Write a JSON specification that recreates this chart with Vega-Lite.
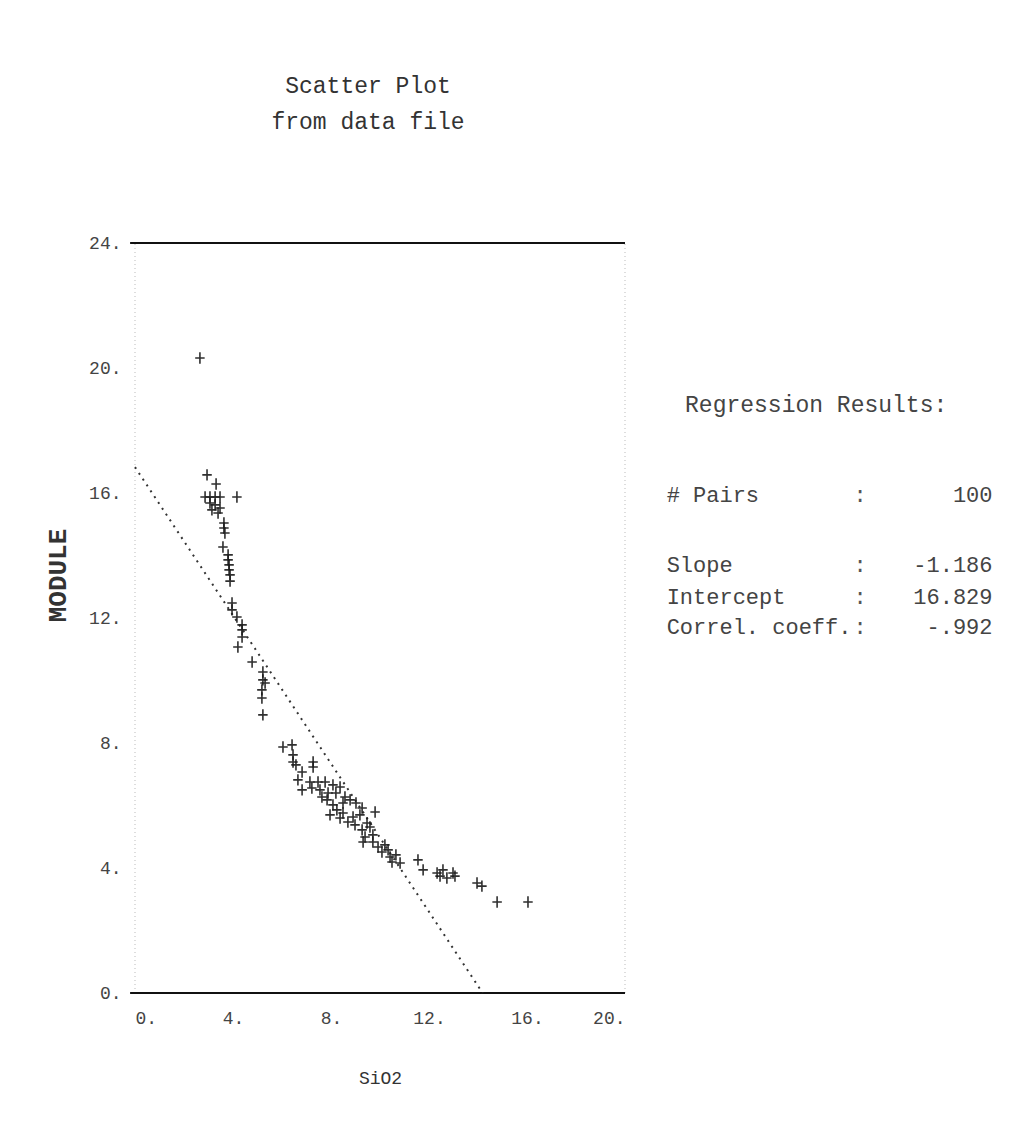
{
  "$schema": "https://vega.github.io/schema/vega-lite/v6.json",
  "width": 490,
  "height": 750,
  "autosize": {"type": "none"},
  "padding": {"left": 135, "top": 243, "right": 397, "bottom": 140},
  "background": "white",
  "config": {
    "view": {"stroke": null},
    "font": "Liberation Mono",
    "axis": {"domain": false, "ticks": false, "grid": false, "labelFont": "Liberation Mono", "titleFont": "Liberation Mono", "labelFontSize": 18, "labelColor": "#444", "titleColor": "#333"}
  },
  "title": {
    "text": ["Scatter Plot", "from data file"],
    "font": "Liberation Mono",
    "fontSize": 23,
    "fontWeight": "normal",
    "color": "#333",
    "lineHeight": 36,
    "offset": 100,
    "anchor": "middle",
    "dx": -12
  },
  "datasets": {
    "points": [
      {"SiO2": 2.65, "MODULE": 20.32}, {"SiO2": 2.94, "MODULE": 16.58}, {"SiO2": 3.31, "MODULE": 16.29}, {"SiO2": 2.86, "MODULE": 15.87}, {"SiO2": 3.06, "MODULE": 15.87},
      {"SiO2": 3.27, "MODULE": 15.87}, {"SiO2": 3.47, "MODULE": 15.87}, {"SiO2": 3.06, "MODULE": 15.68}, {"SiO2": 3.27, "MODULE": 15.62}, {"SiO2": 3.47, "MODULE": 15.52},
      {"SiO2": 3.14, "MODULE": 15.46}, {"SiO2": 3.39, "MODULE": 15.36}, {"SiO2": 4.16, "MODULE": 15.87}, {"SiO2": 3.63, "MODULE": 15.04}, {"SiO2": 3.63, "MODULE": 14.88},
      {"SiO2": 3.67, "MODULE": 14.72}, {"SiO2": 3.59, "MODULE": 14.27}, {"SiO2": 3.80, "MODULE": 14.02}, {"SiO2": 3.80, "MODULE": 13.86}, {"SiO2": 3.84, "MODULE": 13.70},
      {"SiO2": 3.84, "MODULE": 13.54}, {"SiO2": 3.88, "MODULE": 13.38}, {"SiO2": 3.88, "MODULE": 13.18}, {"SiO2": 3.96, "MODULE": 12.48}, {"SiO2": 3.96, "MODULE": 12.26},
      {"SiO2": 4.16, "MODULE": 12.03}, {"SiO2": 4.37, "MODULE": 11.78}, {"SiO2": 4.37, "MODULE": 11.62}, {"SiO2": 4.37, "MODULE": 11.39}, {"SiO2": 4.20, "MODULE": 11.07},
      {"SiO2": 4.78, "MODULE": 10.59}, {"SiO2": 5.22, "MODULE": 10.27}, {"SiO2": 5.22, "MODULE": 10.02}, {"SiO2": 5.31, "MODULE": 9.92}, {"SiO2": 5.18, "MODULE": 9.70},
      {"SiO2": 5.18, "MODULE": 9.44}, {"SiO2": 5.22, "MODULE": 8.90}, {"SiO2": 6.04, "MODULE": 7.87}, {"SiO2": 6.41, "MODULE": 7.94}, {"SiO2": 6.45, "MODULE": 7.62},
      {"SiO2": 6.45, "MODULE": 7.39}, {"SiO2": 6.57, "MODULE": 7.30}, {"SiO2": 6.82, "MODULE": 7.07}, {"SiO2": 7.27, "MODULE": 7.39}, {"SiO2": 7.27, "MODULE": 7.23},
      {"SiO2": 6.65, "MODULE": 6.82}, {"SiO2": 6.82, "MODULE": 6.50}, {"SiO2": 7.14, "MODULE": 6.75}, {"SiO2": 7.47, "MODULE": 6.75}, {"SiO2": 7.76, "MODULE": 6.75},
      {"SiO2": 8.08, "MODULE": 6.66}, {"SiO2": 8.37, "MODULE": 6.59}, {"SiO2": 7.22, "MODULE": 6.56}, {"SiO2": 7.55, "MODULE": 6.50}, {"SiO2": 7.88, "MODULE": 6.40},
      {"SiO2": 8.20, "MODULE": 6.40}, {"SiO2": 7.84, "MODULE": 6.18}, {"SiO2": 8.08, "MODULE": 6.02}, {"SiO2": 8.24, "MODULE": 5.86}, {"SiO2": 7.96, "MODULE": 5.70},
      {"SiO2": 8.37, "MODULE": 5.60}, {"SiO2": 8.49, "MODULE": 6.08}, {"SiO2": 8.49, "MODULE": 5.76}, {"SiO2": 8.78, "MODULE": 6.18}, {"SiO2": 9.02, "MODULE": 6.08},
      {"SiO2": 9.27, "MODULE": 5.92}, {"SiO2": 8.90, "MODULE": 5.63}, {"SiO2": 9.18, "MODULE": 5.70}, {"SiO2": 8.98, "MODULE": 5.38}, {"SiO2": 9.27, "MODULE": 5.22},
      {"SiO2": 9.47, "MODULE": 5.44}, {"SiO2": 9.80, "MODULE": 5.79}, {"SiO2": 9.59, "MODULE": 5.31}, {"SiO2": 9.31, "MODULE": 4.83}, {"SiO2": 9.71, "MODULE": 5.06},
      {"SiO2": 9.71, "MODULE": 4.83}, {"SiO2": 9.92, "MODULE": 4.67}, {"SiO2": 10.08, "MODULE": 4.51}, {"SiO2": 10.20, "MODULE": 4.74}, {"SiO2": 10.41, "MODULE": 4.35},
      {"SiO2": 10.49, "MODULE": 4.19}, {"SiO2": 10.82, "MODULE": 4.16}, {"SiO2": 10.65, "MODULE": 4.42}, {"SiO2": 11.55, "MODULE": 4.26}, {"SiO2": 11.76, "MODULE": 3.94},
      {"SiO2": 12.33, "MODULE": 3.84}, {"SiO2": 12.57, "MODULE": 3.94}, {"SiO2": 12.73, "MODULE": 3.68}, {"SiO2": 12.98, "MODULE": 3.84}, {"SiO2": 13.06, "MODULE": 3.74},
      {"SiO2": 13.96, "MODULE": 3.52}, {"SiO2": 14.16, "MODULE": 3.42}, {"SiO2": 14.78, "MODULE": 2.91}, {"SiO2": 16.04, "MODULE": 2.91}, {"SiO2": 8.57, "MODULE": 6.27},
      {"SiO2": 7.63, "MODULE": 6.27}, {"SiO2": 8.69, "MODULE": 5.47}, {"SiO2": 9.39, "MODULE": 4.99}, {"SiO2": 10.33, "MODULE": 4.58}, {"SiO2": 12.45, "MODULE": 3.74}
    ],
    "fit": [{"SiO2": 0, "MODULE": 16.829}, {"SiO2": 14.19, "MODULE": 0}],
    "stats": [
      {"line": 0, "label": "Regression Results:", "sep": "", "value": ""},
      {"line": 2.85, "label": "# Pairs", "sep": ":", "value": "100"},
      {"line": 5.08, "label": "Slope", "sep": ":", "value": "-1.186"},
      {"line": 6.08, "label": "Intercept", "sep": ":", "value": "16.829"},
      {"line": 7.06, "label": "Correl. coeff.", "sep": ":", "value": "-.992"}
    ],
    "one": [{"k": 1}]
  },
  "layer": [
    {
      "layer": [
        {
          "data": {"name": "one"},
          "mark": {"type": "rule", "stroke": "#bbb", "strokeWidth": 1, "strokeDash": [1, 3]},
          "encoding": {
            "x": {"datum": 0, "type": "quantitative", "scale": {"domain": [0, 20], "nice": false}},
            "y": {"datum": 0, "type": "quantitative", "scale": {"domain": [0, 24], "nice": false}},
            "y2": {"datum": 24}
          }
        },
        {
          "data": {"name": "one"},
          "mark": {"type": "rule", "stroke": "#bbb", "strokeWidth": 1, "strokeDash": [1, 3]},
          "encoding": {
            "x": {"datum": 20, "type": "quantitative"},
            "y": {"datum": 0, "type": "quantitative"},
            "y2": {"datum": 24}
          }
        },
        {
          "data": {"name": "one"},
          "mark": {"type": "rule", "stroke": "#111", "strokeWidth": 2},
          "encoding": {
            "x": {"datum": -0.2, "type": "quantitative"},
            "x2": {"datum": 20},
            "y": {"datum": 24, "type": "quantitative"}
          }
        },
        {
          "data": {"name": "one"},
          "mark": {"type": "rule", "stroke": "#111", "strokeWidth": 2},
          "encoding": {
            "x": {"datum": -0.2, "type": "quantitative"},
            "x2": {"datum": 20},
            "y": {"datum": 0, "type": "quantitative"}
          }
        },
        {
          "data": {"name": "fit"},
          "mark": {"type": "line", "stroke": "#333", "strokeWidth": 2, "strokeDash": [2, 5]},
          "encoding": {
            "x": {"field": "SiO2", "type": "quantitative"},
            "y": {"field": "MODULE", "type": "quantitative"}
          }
        },
        {
          "data": {"name": "points"},
          "mark": {"type": "point", "shape": "M-1,0L1,0M0,-1.2L0,1.2", "filled": false, "size": 90, "stroke": "#1a1a1a", "strokeWidth": 1.6, "opacity": 0.9},
          "encoding": {
            "x": {
              "field": "SiO2", "type": "quantitative",
              "scale": {"domain": [0, 20], "nice": false},
              "axis": {"values": [0, 4, 8, 12, 16, 20], "labelExpr": "datum.value + '.'", "labelPadding": 16, "title": "SiO2", "titleFontSize": 18, "titleFontWeight": "normal", "titlePadding": 42}
            },
            "y": {
              "field": "MODULE", "type": "quantitative",
              "scale": {"domain": [0, 24], "nice": false},
              "axis": {"values": [0, 4, 8, 12, 16, 20, 24], "labelExpr": "datum.value + '.'", "labelPadding": 14, "title": "MODULE", "titleFontSize": 26, "titleFontWeight": "bold", "titlePadding": 18, "titleY": 332}
            }
          }
        }
      ]
    },
    {
      "data": {"name": "stats"},
      "encoding": {
        "y": {"field": "line", "type": "quantitative", "scale": {"domain": [-5.143, 18.667], "reverse": true, "nice": false, "zero": false}, "axis": null}
      },
      "layer": [
        {
          "transform": [{"filter": "datum.line == 0"}],
          "mark": {"type": "text", "align": "left", "baseline": "middle", "font": "Liberation Mono", "fontSize": 23, "fill": "#444"},
          "encoding": {
            "x": {"datum": 22.45, "type": "quantitative", "scale": {"domain": [0, 20], "nice": false}},
            "text": {"field": "label"}
          }
        },
        {
          "transform": [{"filter": "datum.line > 0"}],
          "mark": {"type": "text", "align": "left", "baseline": "middle", "font": "Liberation Mono", "fontSize": 22, "fill": "#444"},
          "encoding": {
            "x": {"datum": 21.7, "type": "quantitative"},
            "text": {"field": "label"}
          }
        },
        {
          "transform": [{"filter": "datum.line > 0"}],
          "mark": {"type": "text", "align": "center", "baseline": "middle", "font": "Liberation Mono", "fontSize": 22, "fill": "#555"},
          "encoding": {
            "x": {"datum": 29.6, "type": "quantitative"},
            "text": {"field": "sep"}
          }
        },
        {
          "transform": [{"filter": "datum.line > 0"}],
          "mark": {"type": "text", "align": "right", "baseline": "middle", "font": "Liberation Mono", "fontSize": 22, "fill": "#444"},
          "encoding": {
            "x": {"datum": 35.0, "type": "quantitative"},
            "text": {"field": "value"}
          }
        }
      ]
    }
  ],
  "resolve": {"scale": {"y": "independent"}}
}
